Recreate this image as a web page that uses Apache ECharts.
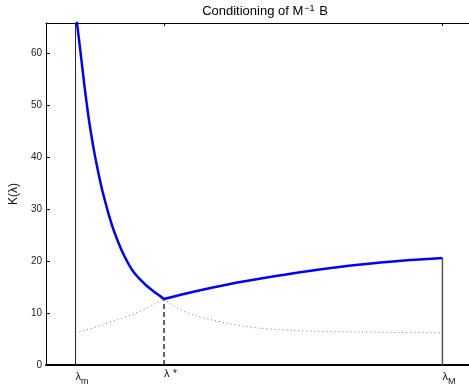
<!DOCTYPE html>
<html>
<head>
<meta charset="utf-8">
<script src="https://cdn.jsdelivr.net/npm/echarts@6/dist/echarts.min.js"></script>
<style>
  html, body { margin: 0; padding: 0; background: #fff; }
  #chart { width: 469px; height: 387px; }
</style>
</head>
<body>
<div id="chart"></div>
<script>
// positions on the lambda axis (arbitrary units)
const lamMin = 30, lamStar = 120, lamMax = 403;
const xTicks = [lamMin, lamStar, lamMax];
const yTicks = [0, 10, 20, 30, 40, 50, 60];

// K(lambda), decreasing branch (left of lambda*)
const leftX = [30, 32, 35, 39, 43, 46, 49, 52, 55, 58, 64, 70, 79, 89, 102, 112, 120];
const leftK = [68.2, 65.0, 60.3, 53.8, 48.0, 44.3, 41.0, 38.1, 35.4, 33.0, 28.8, 25.3, 21.2, 17.9, 15.3, 13.8, 12.7];
// K(lambda), increasing branch (right of lambda*)
const rightX = [120, 150, 187, 220, 260, 300, 340, 370, 403];
const rightK = [12.7, 14.1, 15.6, 16.7, 17.9, 18.9, 19.7, 20.2, 20.6];
// dotted continuations of the other branch
const dotLeftX = [30, 40, 57, 74, 90, 107, 120];
const dotLeftK = [6.2, 6.7, 7.7, 8.8, 9.9, 11.4, 12.7];
const dotRightX = [120, 134, 150, 167, 184, 200, 217, 234, 250, 274, 320, 360, 403];
const dotRightK = [12.7, 10.9, 9.6, 8.75, 8.05, 7.5, 7.1, 6.85, 6.65, 6.5, 6.35, 6.25, 6.2];

const yMax = 65.8;
const font = 'Liberation Sans, Arial, Helvetica, sans-serif';
const xLabels = {};
xLabels[lamMin] = '{l|λ}{s|m}';
xLabels[lamStar] = '{l|λ} {a|*}';
xLabels[lamMax] = '{l|λ}{s|M}';

const zip = (xs, ys) => xs.map((x, i) => [x, ys[i]]);

const kStar = rightK[0];
const kEnd = rightK[rightK.length - 1];

const chart = echarts.init(document.getElementById('chart'));
chart.setOption({
  animation: false,
  title: {
    text: '{t|Conditioning of M}{sup|−1}{t| B}',
    left: 260,
    top: -6,
    textAlign: 'center',
    textStyle: {
      fontWeight: 'normal',
      rich: {
        t: { fontFamily: font, fontSize: 13, fontWeight: 'normal', color: '#000', padding: [6, 0, 0, 0] },
        sup: { fontFamily: font, fontSize: 9, fontWeight: 'normal', color: '#000', padding: [0, 1, 0, 1] }
      }
    }
  },
  grid: { left: 43, right: -4, top: 23, bottom: 22 },
  xAxis: [
    {
      type: 'value', min: 0, max: 430,
      axisLine: { show: true, lineStyle: { color: '#000', width: 2 } },
      axisTick: { show: false },
      splitLine: { show: false },
      axisLabel: {
        customValues: xTicks,
        align: 'left',
        margin: 3,
        formatter: v => xLabels[v] || '',
        rich: {
          l: { fontFamily: font, fontSize: 11, color: '#111' },
          s: { fontFamily: font, fontSize: 9, color: '#111', padding: [9, 0, 0, 0] },
          a: { fontFamily: font, fontSize: 10, color: '#111' }
        }
      }
    },
    {
      type: 'value', min: 0, max: 430, position: 'top',
      axisLine: { show: true, lineStyle: { color: '#000', width: 1 } },
      axisTick: { show: true, inside: true, length: 3, customValues: xTicks, lineStyle: { color: '#000' } },
      axisLabel: { show: false },
      splitLine: { show: false }
    }
  ],
  yAxis: {
    type: 'value', min: 0, max: yMax, interval: 10,
    name: 'K(λ)', nameLocation: 'middle', nameGap: 17, nameRotate: 90,
    nameTextStyle: { fontFamily: font, fontSize: 12, color: '#111' },
    axisLine: { show: true, lineStyle: { color: '#000', width: 1 } },
    axisTick: { show: true, inside: true, length: 4, customValues: yTicks, lineStyle: { color: '#000' } },
    axisLabel: { customValues: yTicks, margin: 4, fontFamily: font, fontSize: 10, color: '#222' },
    splitLine: { show: false }
  },
  series: [
    {
      type: 'line', data: [[lamMin, 0], [lamMin, yMax]], symbol: 'none',
      lineStyle: { color: '#222', width: 1 }
    },
    {
      type: 'line', data: [[lamStar, 0], [lamStar, kStar]], symbol: 'none',
      lineStyle: { color: '#333', width: 1.5, type: [5, 3] }
    },
    {
      type: 'line', data: [[lamMax, 0], [lamMax, kEnd]], symbol: 'none',
      lineStyle: { color: '#555', width: 1.5 }
    },
    {
      type: 'line', data: zip(dotLeftX, dotLeftK), symbol: 'none', smooth: 0.3,
      lineStyle: { color: '#777', width: 1, type: [1, 3] }
    },
    {
      type: 'line', data: zip(dotRightX, dotRightK), symbol: 'none', smooth: 0.3,
      lineStyle: { color: '#777', width: 1, type: [1, 3] }
    },
    {
      type: 'line', data: zip(leftX, leftK), symbol: 'none', smooth: 0.3,
      lineStyle: { color: '#0000ff', width: 2.5 }
    },
    {
      type: 'line', data: zip(rightX, rightK), symbol: 'none', smooth: 0.3,
      lineStyle: { color: '#0000ff', width: 2.5 }
    }
  ]
});
</script>
</body>
</html>
